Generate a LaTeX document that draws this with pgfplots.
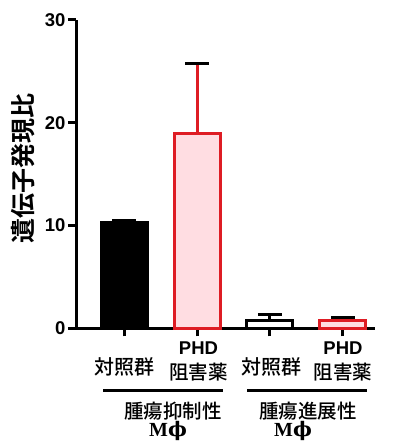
\documentclass[border=0pt]{standalone}
\usepackage{fontspec}
\setmainfont{Liberation Sans}
\newfontfamily\cjk{Noto Sans CJK JP}[UprightFont=* Medium, BoldFont=* Bold]
\newfontfamily\serifb{Liberation Serif}
\newfontfamily\dvs{DejaVu Serif}
\usepackage{pgfplots}
\pgfplotsset{compat=1.18}
\definecolor{myred}{RGB}{222,28,36}
\definecolor{mypink}{RGB}{255,221,226}
\begin{document}
\begin{tikzpicture}
\path[use as bounding box] (0,0) rectangle (395pt,442pt);
\begin{axis}[
  at={(76pt,113.7pt)}, anchor=south west,
  scale only axis, width=299pt, height=308.3pt,
  xmin=-0.66, xmax=3.44, ymin=0, ymax=30,
  axis x line*=bottom, axis y line*=left,
  ytick={0,10,20,30}, xtick={0,1,2,3}, xticklabels={},
  tick align=outside, major tick length=8pt,
  axis line style={line width=3pt, black},
  tick style={line width=3pt, black},
  /pgf/number format/assume math mode=true,
  yticklabel style={font=\bfseries\fontsize{18.5}{18.5}\selectfont, xshift=1pt},
  ybar, bar width=46pt, bar shift=0pt,
  clip=false,
  error bars/error bar style={line width=3pt},
  error bars/error mark options={rotate=90, mark size=12pt, line width=3pt},
]
\addplot[draw=black, fill=black, line width=3pt,
  error bars/.cd, y dir=plus, y explicit]
  coordinates {(0,10.27) +- (0,0.25)};
\addplot[draw=myred, fill=mypink, line width=3pt,
  error bars/.cd, y dir=plus, y explicit]
  coordinates {(1,19.0) +- (0,6.8)};
\addplot[draw=black, fill=white, line width=3pt,
  error bars/.cd, y dir=plus, y explicit]
  coordinates {(2,0.8) +- (0,0.55)};
\addplot[draw=myred, fill=mypink, line width=3pt,
  error bars/.cd, y dir=plus, y explicit]
  coordinates {(3,0.8) +- (0,0.25)};
\end{axis}
% y label
\node[rotate=90, font=\cjk\bfseries\fontsize{25}{25}\selectfont] at (23pt,273pt) {遺伝子発現比};
% category labels
\node[font=\cjk\fontsize{20}{20}\selectfont] at (124.5pt,75pt) {対照群};
\node[font=\bfseries\fontsize{18.5}{18.5}\selectfont] at (198.5pt,94pt) {PHD};
\node[font=\cjk\fontsize{19.5}{19.5}\selectfont] at (198.5pt,70pt) {阻害薬};
\node[font=\cjk\fontsize{20}{20}\selectfont] at (271pt,75pt) {対照群};
\node[font=\bfseries\fontsize{18.5}{18.5}\selectfont] at (343pt,94pt) {PHD};
\node[font=\cjk\fontsize{19.5}{19.5}\selectfont] at (343pt,70pt) {阻害薬};
% group lines
\draw[line width=3pt] (103pt,51pt) -- (223pt,51pt);
\draw[line width=3pt] (247pt,51pt) -- (367pt,51pt);
% group labels
\node[font=\cjk\fontsize{19.5}{19.5}\selectfont] at (173pt,31pt) {腫瘍抑制性};
\node[font=\fontsize{20}{20}\selectfont] at (168pt,11pt) {{\serifb\bfseries M}{\dvs\bfseries ϕ}};
\node[font=\cjk\fontsize{19.5}{19.5}\selectfont] at (308pt,31pt) {腫瘍進展性};
\node[font=\fontsize{20}{20}\selectfont] at (293pt,11pt) {{\serifb\bfseries M}{\dvs\bfseries ϕ}};
\end{tikzpicture}
\end{document}
